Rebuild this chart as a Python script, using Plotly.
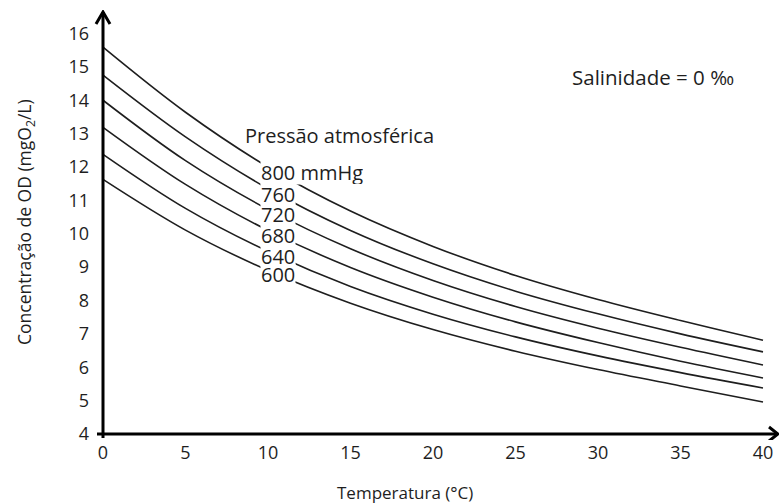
import numpy as np
import plotly.graph_objects as go

# ---- data ----
temperature = [0, 5, 10, 15, 20, 25, 30, 35, 40]
do_800 = [15.59, 13.64, 12.00, 10.68, 9.62, 8.75, 8.03, 7.40, 6.81]
do_760 = [14.75, 12.90, 11.35, 10.10, 9.10, 8.28, 7.60, 7.00, 6.46]
do_720 = [14.00, 12.19, 10.73, 9.55, 8.60, 7.82, 7.17, 6.60, 6.07]
do_680 = [13.19, 11.48, 10.10, 8.99, 8.10, 7.36, 6.74, 6.18, 5.68]
do_640 = [12.38, 10.76, 9.47, 8.42, 7.59, 6.91, 6.34, 5.84, 5.38]
do_600 = [11.63, 10.11, 8.90, 7.92, 7.13, 6.48, 5.93, 5.44, 4.96]
pressures = ["800", "760", "720", "680", "640", "600"]
series = [do_800, do_760, do_720, do_680, do_640, do_600]
x_ticks = [0, 5, 10, 15, 20, 25, 30, 35, 40]
y_ticks = [4, 5, 6, 7, 8, 9, 10, 11, 12, 13, 14, 15, 16]

FONT = "Open Sans"
INK = "#1e1e1e"

W, H = 779, 504
ml, mr, mt, mb = 90, 0, 10, H - 440
plot_w, plot_h = W - ml - mr, H - mt - mb
px_per_x = 16.5
px_per_y = 33.375
x0_px, y0_px = 103, 434  # pixel of data point (0, 4)
xr = [(ml - x0_px) / px_per_x, (W - mr - x0_px) / px_per_x]
yr = [4 - ((H - mb) - y0_px) / px_per_y, 4 + (y0_px - mt) / px_per_y]


def px2data(rx, ry):
    return (rx - x0_px) / px_per_x, 4 + (y0_px - ry) / px_per_y


def px2paper(rx, ry):
    return (rx - ml) / plot_w, 1 - (ry - mt) / plot_h


fig = go.Figure()
for p, vals in zip(pressures, series):
    fig.add_trace(go.Scatter(x=temperature, y=vals, mode="lines",
                             line=dict(color=INK, width=1.6, shape="spline", smoothing=1.0),
                             name=p + " mmHg", showlegend=False, hoverinfo="x+y"))

# pressure labels placed on each curve (white box masks the curve);
# added bottom-up so each upper box sits on top
label_t = 10.6
lx, _ = px2data(260, 0)
for i in reversed(range(len(pressures))):
    p, vals = pressures[i], series[i]
    yv = float(np.interp(label_t, temperature, vals))
    txt = p + " mmHg" if i == 0 else p
    fig.add_annotation(x=lx, y=yv, xref="x", yref="y", text=txt, showarrow=False,
                       xanchor="left", yanchor="middle", bgcolor="white", borderpad=0,
                       height=24 if i == 0 else 20, valign="middle",
                       font=dict(family=FONT, size=20, color=INK))

px_, py_ = px2data(243, 135)
fig.add_annotation(x=px_, y=py_, xref="x", yref="y", text="Pressão atmosférica",
                   showarrow=False, xanchor="left", yanchor="middle",
                   font=dict(family=FONT, size=20, color=INK))
sx, sy = px2data(653, 77)
fig.add_annotation(x=sx, y=sy, xref="x", yref="y", text="Salinidade = 0 ‰",
                   showarrow=False, xanchor="center", yanchor="middle",
                   font=dict(family=FONT, size=20.5, color=INK))

# axis titles
tx, ty = px2paper(405, 493)
fig.add_annotation(x=tx, y=ty, xref="paper", yref="paper",
                   text="Temperatura (°C)", showarrow=False, xanchor="center", yanchor="middle",
                   font=dict(family=FONT, size=17, color=INK))
vx, vy = px2paper(25, 222)
fig.add_annotation(x=vx, y=vy, xref="paper", yref="paper",
                   text="Concentração de OD (mgO<sub>2</sub>/L)", showarrow=False, textangle=-90,
                   xanchor="center", yanchor="middle",
                   font=dict(family=FONT, size=17.5, color=INK))

# axes with arrows
_, y_top = px2data(0, 12)
x_right, _ = px2data(778, 0)
fig.add_shape(type="line", xref="x", yref="y", x0=0, x1=0, y0=4 - 4 / px_per_y, y1=y_top,
              line=dict(color="black", width=3))
fig.add_shape(type="line", xref="x", yref="y", x0=-6 / px_per_x, x1=x_right, y0=4, y1=4,
              line=dict(color="black", width=3))
fig.add_shape(type="path", xref="x", yref="y", xsizemode="pixel", ysizemode="pixel",
              xanchor=0, yanchor=y_top, path="M -7,-12 L 0,0 L 7,-12",
              line=dict(color="black", width=3))
fig.add_shape(type="path", xref="x", yref="y", xsizemode="pixel", ysizemode="pixel",
              xanchor=x_right, yanchor=4, path="M -9,7 L 0,0 L -9,-7",
              line=dict(color="black", width=3))

fig.update_layout(
    width=W, height=H, margin=dict(l=ml, r=mr, t=mt, b=mb),
    paper_bgcolor="white", plot_bgcolor="white",
    xaxis=dict(range=xr, tickvals=x_ticks, ticktext=[str(v) for v in x_ticks],
               showgrid=False, zeroline=False, showline=False, ticks="",
               tickfont=dict(family=FONT, size=18, color=INK)),
    yaxis=dict(range=yr, tickvals=y_ticks, ticktext=[str(v) for v in y_ticks],
               showgrid=False, zeroline=False, showline=False, ticks="",
               tickfont=dict(family=FONT, size=18, color=INK)),
)

fig.write_html("out.html", config=dict(displayModeBar=False),
               post_script="document.body.style.margin='0px'; document.body.style.overflow='hidden';")
